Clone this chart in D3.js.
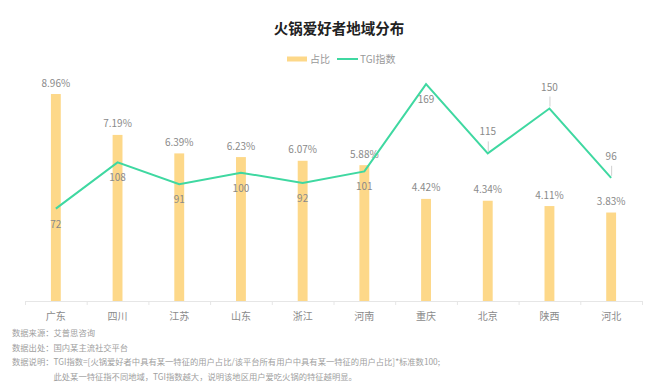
<!DOCTYPE html>
<html><head><meta charset="utf-8">
<script src="https://cdn.jsdelivr.net/npm/d3@7/dist/d3.min.js"></script>
<style>
html,body{margin:0;padding:0;background:#fff;}
svg{display:block;font-family:"Noto Sans CJK SC","Noto Sans",sans-serif;}
</style></head>
<body>
<svg id="chart" width="654" height="388"></svg>
<script>
const categories = ["广东","四川","江苏","山东","浙江","河南","重庆","北京","陕西","河北"];
const shareValues = [8.96,7.19,6.39,6.23,6.07,5.88,4.42,4.34,4.11,3.83];
const tgiValues = [72,108,91,100,92,101,169,115,150,96];
const tgiLabelSide = ["below","below","below","below","below","below","below","above","above","above"];
const legendLabels = ["占比","TGI指数"];
const titleText = "火锅爱好者地域分布";
const notes = [
  "数据来源：艾普思咨询",
  "数据出处：国内某主流社交平台",
  "数据说明：TGI指数=[火锅爱好者中具有某一特征的用户占比/该平台所有用户中具有某一特征的用户占比]*标准数100;",
  "此处某一特征指不同地域，TGI指数越大，说明该地区用户爱吃火锅的特征越明显。"
];

const barColor = "#fdd889", lineColor = "#3fd8a1";
const svg = d3.select("#chart");
const baseY = 301, topY = 70;

const x = d3.scaleBand().domain(categories).range([25, 642]).paddingInner(0.84).paddingOuter(0.42);
const yShare = d3.scaleLinear().domain([0, 10]).range([baseY, topY]);
const yTgi = d3.scaleLinear().domain([0, 180]).range([baseY, topY]);
const cx = c => x(c) + x.bandwidth() / 2;

// title
svg.append("text").attr("x", 339).attr("y", 34).attr("text-anchor", "middle")
  .attr("font-size", 14.5).attr("font-weight", 700).attr("fill", "#222").text(titleText);

// legend
const lg = svg.append("g");
lg.append("rect").attr("x", 287).attr("y", 56.5).attr("width", 20).attr("height", 5).attr("fill", barColor);
lg.append("text").attr("x", 310).attr("y", 62.5).attr("font-size", 10).attr("fill", "#999").text(legendLabels[0]);
lg.append("line").attr("x1", 337).attr("x2", 358).attr("y1", 59).attr("y2", 59).attr("stroke", lineColor).attr("stroke-width", 2);
lg.append("text").attr("x", 360).attr("y", 62.5).attr("font-size", 10).attr("fill", "#999").text(legendLabels[1]);

// axis
const ax = svg.append("g");
ax.append("line").attr("x1", x.range()[0]).attr("x2", x.range()[1]).attr("y1", baseY + 0.5).attr("y2", baseY + 0.5)
  .attr("stroke", "#e6e6e6");
const boundaries = d3.range(categories.length + 1).map(i => x.range()[0] + i * x.step());
ax.selectAll("line.tick").data(boundaries).join("line").attr("class", "tick")
  .attr("x1", d => d + 0.5).attr("x2", d => d + 0.5).attr("y1", baseY).attr("y2", baseY + 4).attr("stroke", "#e6e6e6");
ax.selectAll("text.cat").data(categories).join("text").attr("class", "cat")
  .attr("x", d => cx(d)).attr("y", 320).attr("text-anchor", "middle").attr("font-size", 10).attr("fill", "#8a8a8a").text(d => d);

// bars
svg.selectAll("rect.bar").data(categories).join("rect").attr("class", "bar")
  .attr("x", d => x(d)).attr("width", x.bandwidth())
  .attr("y", (d, i) => yShare(shareValues[i])).attr("height", (d, i) => baseY - yShare(shareValues[i]))
  .attr("fill", barColor);
svg.selectAll("text.barlab").data(categories).join("text").attr("class", "barlab")
  .attr("x", d => cx(d)).attr("y", (d, i) => yShare(shareValues[i]) - 7.5)
  .attr("text-anchor", "middle").attr("font-size", 10).attr("fill", "#8a8a8a")
  .text((d, i) => shareValues[i].toFixed(2) + "%");

// line
const line = d3.line().x(d => cx(d)).y((d, i) => yTgi(tgiValues[i]));
svg.append("path").datum(categories).attr("d", line).attr("fill", "none")
  .attr("stroke", lineColor).attr("stroke-width", 2).attr("stroke-linejoin", "miter");

// tgi labels
categories.forEach((c, i) => {
  const py = yTgi(tgiValues[i]);
  if (tgiLabelSide[i] === "above") {
    svg.append("line").attr("x1", cx(c) + 0.5).attr("x2", cx(c) + 0.5).attr("y1", py - 12).attr("y2", py - 2)
      .attr("stroke", "#d0d0d0").attr("stroke-width", 1);
    svg.append("text").attr("x", cx(c)).attr("y", py - 18).attr("text-anchor", "middle")
      .attr("font-size", 10).attr("fill", "#8a8a8a").text(tgiValues[i]);
  } else {
    svg.append("text").attr("x", cx(c)).attr("y", py + 19).attr("text-anchor", "middle")
      .attr("font-size", 10).attr("fill", "#8a8a8a").text(tgiValues[i]);
  }
});

// notes
const nf = 8.3;
svg.append("text").attr("x", 12).attr("y", 336).attr("font-size", nf).attr("fill", "#a0a0a0").text(notes[0]);
svg.append("text").attr("x", 12).attr("y", 351).attr("font-size", nf).attr("fill", "#a0a0a0").text(notes[1]);
svg.append("text").attr("x", 12).attr("y", 365).attr("font-size", nf).attr("fill", "#a0a0a0").text(notes[2]);
svg.append("text").attr("x", 12 + nf * 5).attr("y", 380).attr("font-size", nf).attr("fill", "#a0a0a0").text(notes[3]);
</script>
</body></html>
